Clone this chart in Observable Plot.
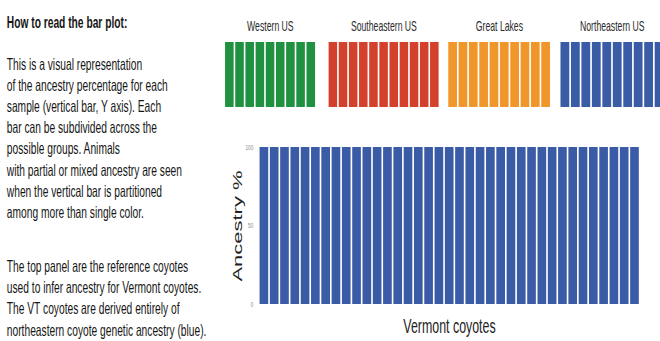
<!DOCTYPE html>
<html><head><meta charset="utf-8">
<script src="https://cdn.jsdelivr.net/npm/d3@7"></script>
<script src="https://cdn.jsdelivr.net/npm/@observablehq/plot@0.6"></script>
<style>
html,body{margin:0;padding:0;background:#fff;overflow:hidden;width:660px;height:341px;}
#page{position:absolute;left:0;top:0;width:1065px;height:341px;transform:scaleX(0.62);transform-origin:0 0;font-family:"Liberation Sans",Arial,Helvetica,sans-serif;color:#161616;}
.line{position:absolute;left:11px;font-size:16.5px;line-height:20px;white-space:nowrap;}
.line.b{font-weight:bold;}
</style></head>
<body>
<div id="page">
  <div class="line b" style="top:12px">How to read the bar plot:</div>
  <div class="line" style="top:54px">This is a visual representation</div>
  <div class="line" style="top:75px">of the ancestry percentage for each</div>
  <div class="line" style="top:96px">sample (vertical bar, Y axis). Each</div>
  <div class="line" style="top:117px">bar can be subdivided across the</div>
  <div class="line" style="top:138px">possible groups. Animals</div>
  <div class="line" style="top:160px">with partial or mixed ancestry are seen</div>
  <div class="line" style="top:181px">when the vertical bar is partitioned</div>
  <div class="line" style="top:202px">among more than single color.</div>
  <div class="line" style="top:256px">The top panel are the reference coyotes</div>
  <div class="line" style="top:277px">used to infer ancestry for Vermont coyotes.</div>
  <div class="line" style="top:298px">The VT coyotes are derived entirely of</div>
  <div class="line" style="top:320px">northeastern coyote genetic ancestry (blue).</div>
</div>
<script>
// ---- data ----
const groups = ["Western US", "Southeastern US", "Great Lakes", "Northeastern US"];
const groupColors = ["#1f9140", "#d3402b", "#f1962a", "#3a5ba6"];
const westernValues = [100, 100, 100, 100, 100, 100, 100, 100, 100];
const southeasternValues = [100, 100, 100, 100, 100, 100, 100, 100, 100, 100, 100];
const greatLakesValues = [100, 100, 100, 100, 100, 100, 100, 100, 100, 100];
const northeasternValues = [100, 100, 100, 100, 100, 100, 100, 100, 100, 100];
const vermontValues = [100, 100, 100, 100, 100, 100, 100, 100, 100, 100,
                       100, 100, 100, 100, 100, 100, 100, 100, 100, 100,
                       100, 100, 100, 100, 100, 100, 100, 100, 100, 100,
                       100, 100, 100, 100, 100, 100, 100];
const vermontColor = "#3a5ba6";
const yTicks = [0, 50, 100];
const yLabel = "Ancestry %";
const xLabel = "Vermont coyotes";

// ---- layout ----
const S = 0.62; // horizontal squish of the page
const page = document.getElementById("page");
const font = '"Liberation Sans", Arial, Helvetica, sans-serif';

function place(el, leftReal, top) {
  el.style.position = "absolute";
  el.style.left = (leftReal / S) + "px";
  el.style.top = top + "px";
  page.appendChild(el);
}

const refValues = [westernValues, southeasternValues, greatLakesValues, northeasternValues];
const panelLayout = [
  {left: 225, width: 90},
  {left: 328.3, width: 110},
  {left: 448.3, width: 101.7},
  {left: 560.7, width: 103}
];

groups.forEach((name, g) => {
  const data = refValues[g].map((v, i) => ({sample: i, ancestry: v}));
  const {left, width} = panelLayout[g];
  const chart = Plot.plot({
    width: width / S, height: 100,
    marginTop: 34, marginBottom: 1, marginLeft: 0, marginRight: 0,
    x: {type: "band", axis: null, paddingInner: 0.16, paddingOuter: 0, round: false},
    y: {domain: [0, 100], axis: null},
    style: {fontFamily: font, background: "transparent", color: "#2a2a2a", overflow: "visible"},
    marks: [
      Plot.barY(data, {x: "sample", y: "ancestry", fill: groupColors[g]}),
      Plot.text([name], {text: d => d, frameAnchor: "top", lineAnchor: "bottom", dy: -11.5, fontSize: 14, fill: "#2a2a2a"})
    ]
  });
  place(chart, left, 8);
});

const vermontData = vermontValues.map((v, i) => ({sample: i, ancestry: v}));
const main = Plot.plot({
  width: 718, height: 206,
  marginLeft: 71, marginRight: 34, marginTop: 12, marginBottom: 37,
  x: {type: "band", paddingInner: 0.16, paddingOuter: 0.04, round: false},
  y: {domain: [0, 100]},
  style: {fontFamily: font, background: "transparent", color: "#222", overflow: "visible"},
  marks: [
    Plot.barY(vermontData, {x: "sample", y: "ancestry", fill: vermontColor}),
    Plot.axisY({ticks: yTicks, tickSize: 0, tickPadding: 10, fontSize: 7.5, fill: "#888", label: null}),
    Plot.axisY({ticks: [], label: yLabel, labelAnchor: "center", labelArrow: "none", labelOffset: 44, fontSize: 22, fill: "#222"}),
    Plot.axisX({ticks: [], label: xLabel, labelAnchor: "center", labelArrow: "none", labelOffset: 28, fontSize: 20, fill: "#222"})
  ]
});
place(main, 215, 135);
</script>
</body></html>
